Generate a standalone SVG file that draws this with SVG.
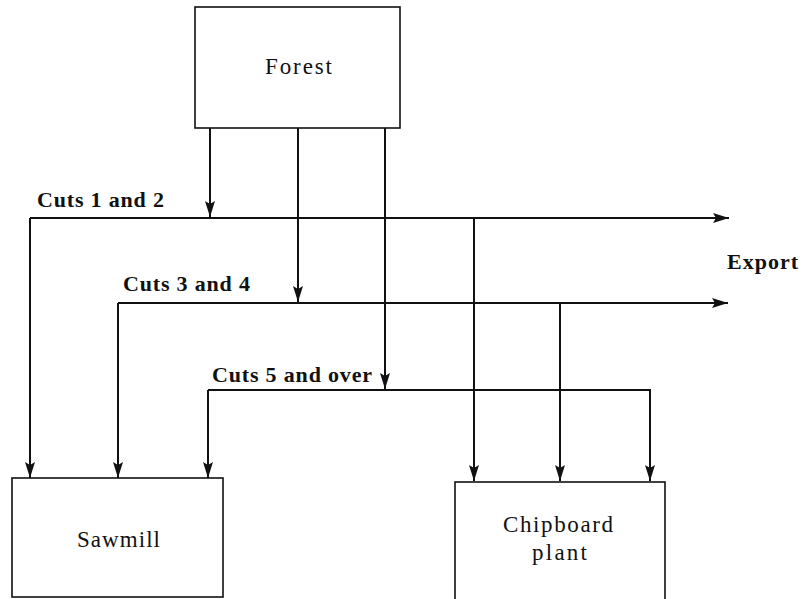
<svg xmlns="http://www.w3.org/2000/svg" width="803" height="599" viewBox="0 0 803 599">
<style>
.box{fill:#fff;stroke:#111;stroke-width:1.6}
.ln{fill:none;stroke:#111;stroke-width:2}
.t{font-family:"Liberation Serif","Times New Roman",serif;font-size:23px;fill:#111}
.b{font-weight:bold;font-size:22px}
</style>
<defs>
<marker id="ah" viewBox="0 -5 16 10" refX="16" refY="0" markerWidth="16" markerHeight="10" markerUnits="userSpaceOnUse" orient="auto">
<path d="M0,-5 L16,0 L0,5 L3,0 Z" fill="#111"/>
</marker>
</defs>
<rect width="803" height="599" fill="#fff"/>
<g id="connectors">
<path class="ln" d="M210,128 V217" marker-end="url(#ah)"/>
<path class="ln" d="M298,128 V302" marker-end="url(#ah)"/>
<path class="ln" d="M385,128 V389" marker-end="url(#ah)"/>
<path class="ln" d="M30,218 H729" marker-end="url(#ah)"/>
<path class="ln" d="M30,218 V478" marker-end="url(#ah)"/>
<path class="ln" d="M474,218 V481" marker-end="url(#ah)"/>
<path class="ln" d="M118,303 H728" marker-end="url(#ah)"/>
<path class="ln" d="M118,303 V478" marker-end="url(#ah)"/>
<path class="ln" d="M560,303 V481" marker-end="url(#ah)"/>
<path class="ln" d="M208,390 H650 V481" marker-end="url(#ah)"/>
<path class="ln" d="M208,390 V478" marker-end="url(#ah)"/>
<text class="t b" x="37" y="207" textLength="127" lengthAdjust="spacing">Cuts 1 and 2</text>
<text class="t b" x="123" y="291" textLength="127" lengthAdjust="spacing">Cuts 3 and 4</text>
<text class="t b" x="212" y="382" textLength="160" lengthAdjust="spacing">Cuts 5 and over</text>
<text class="t b" x="727" y="269" textLength="71" lengthAdjust="spacing">Export</text>
</g>
<g id="forest">
<rect class="box" x="195" y="7" width="205" height="121"/>
<text class="t" x="265" y="74" textLength="67" lengthAdjust="spacing">Forest</text>
</g>
<g id="sawmill">
<rect class="box" x="12" y="478" width="211" height="119"/>
<text class="t" x="77" y="547" textLength="83" lengthAdjust="spacing">Sawmill</text>
</g>
<g id="chipboard">
<rect class="box" x="455" y="482" width="210" height="130"/>
<text class="t" x="503" y="532" textLength="110" lengthAdjust="spacing">Chipboard</text>
<text class="t" x="532" y="560" textLength="55" lengthAdjust="spacing">plant</text>
</g>
</svg>
